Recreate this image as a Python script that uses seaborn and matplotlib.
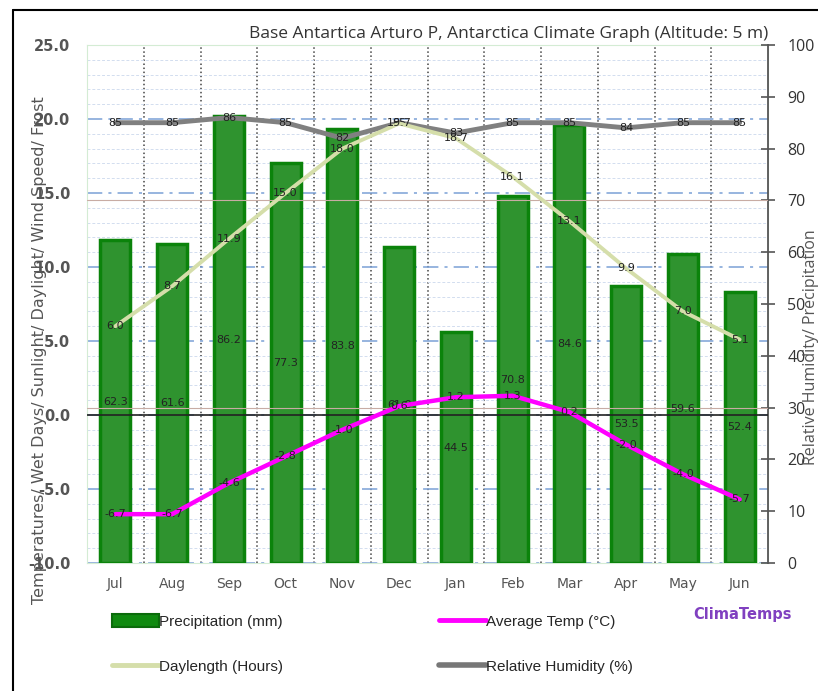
import numpy as np
import pandas as pd
import matplotlib.pyplot as plt
import matplotlib.patches as mpatches
from matplotlib.lines import Line2D
from matplotlib.ticker import MultipleLocator
import seaborn as sns

# Climate data, Base Antartica Arturo P (Jul -> Jun)
months = ['Jul', 'Aug', 'Sep', 'Oct', 'Nov', 'Dec', 'Jan', 'Feb', 'Mar', 'Apr', 'May', 'Jun']
precip = [62.3, 61.6, 86.2, 77.3, 83.8, 61.0, 44.5, 70.8, 84.6, 53.5, 59.6, 52.4]
avg_temp = [-6.7, -6.7, -4.6, -2.8, -1.0, 0.6, 1.2, 1.3, 0.2, -2.0, -4.0, -5.7]
daylength = [6.0, 8.7, 11.9, 15.0, 18.0, 19.7, 18.7, 16.1, 13.1, 9.9, 7.0, 5.1]
humidity = [85, 85, 86, 85, 82, 85, 83, 85, 85, 84, 85, 85]

df = pd.DataFrame({'month': months, 'precip': precip, 'temp': avg_temp,
                   'daylength': daylength, 'humidity': humidity})
df['pos'] = range(len(df))

sns.set_style('white')
plt.rcParams['font.family'] = ['DejaVu Sans']

bar_color = '#2f932f'
bar_edge = '#0b830b'
temp_color = '#ff00ff'
day_color = '#d5deaa'
hum_color = '#808080'

fig = plt.figure(figsize=(8.18, 6.91), dpi=100)
ax = fig.add_axes([87 / 818, 1 - 563 / 691, 681 / 818, 518 / 691])
ax2 = ax.twinx()
ax3 = ax.twinx()
ax.set_zorder(0)
ax2.set_zorder(1)
ax3.set_zorder(2)
ax2.patch.set_visible(False)
ax3.patch.set_visible(False)

# precipitation bars + humidity on the right axis
sns.barplot(data=df, x='month', y='precip', ax=ax2, color=bar_color, width=0.53,
            edgecolor=bar_edge, linewidth=2.5, saturation=1, zorder=2)
sns.lineplot(data=df, x='pos', y='humidity', ax=ax2, color=hum_color, lw=3.5, zorder=5)
ax2.axhline(30, color='#c8aca4', lw=0.8, zorder=4)
ax2.axhline(70, color='#c8aca4', lw=0.8, zorder=4)

# temperature + daylength on the left scale, drawn above the bars
sns.lineplot(data=df, x='pos', y='daylength', ax=ax3, color=day_color, lw=2.8)
sns.lineplot(data=df, x='pos', y='temp', ax=ax3, color=temp_color, lw=3.2)
ax3.axhline(0, color='#222222', lw=1.2, zorder=1)

# value labels
lbl = dict(ha='center', va='center', fontsize=8, color='#222222', zorder=10)
for _, r in df.iterrows():
    ax2.text(r['pos'], r['precip'] / 2, f"{r['precip']:.1f}", **lbl)
    ax2.text(r['pos'], r['humidity'], f"{r['humidity']:.0f}", **lbl)
    ax3.text(r['pos'], r['temp'], f"{r['temp']:.1f}", **lbl)
    ax3.text(r['pos'], r['daylength'], f"{r['daylength']:.1f}", **lbl)

for a in (ax, ax2, ax3):
    a.set_xlim(-0.5, 11.5)
    a.set_xlabel('')
    a.set_ylabel('')
ax.set_ylim(-10, 25)
ax3.set_ylim(-10, 25)
ax2.set_ylim(0, 100)

# left axis
ax.set_yticks(np.arange(-10, 26, 5))
ax.set_yticklabels([f'{v:.1f}' for v in np.arange(-10, 26, 5)])
ax.yaxis.set_minor_locator(MultipleLocator(1))
ax.tick_params(axis='y', which='both', length=0, pad=12, labelsize=10.5,
               labelcolor='#555555')
for t in ax.get_yticklabels():
    t.set_fontweight('bold')
ax.set_xticks(range(len(months)))
ax.set_xticks(np.arange(0.5, len(months) - 1, 1), minor=True)
ax.set_xticklabels(months)
ax.tick_params(axis='x', which='both', length=0, pad=10, labelsize=10,
               labelcolor='#555555')
ax.grid(False)
ax.grid(which='minor', axis='y', color='#d2ddef', ls=(0, (3, 2)), lw=0.7)
ax.grid(which='major', axis='y', color='#7aa0d6', ls=(0, (10, 4, 2, 4)), lw=1.1)
ax.grid(which='minor', axis='x', color='#444444', ls=':', lw=1.1)
for s in ax.spines.values():
    s.set_color('#d4ecd4')
    s.set_linewidth(0.8)

# right axis
ax2.set_yticks(range(0, 101, 10))
ax2.tick_params(axis='y', direction='inout', length=10, width=1.2, color='#555555',
                pad=9, labelsize=11.5, labelcolor='#333333')
for t in ax2.get_yticklabels():
    t.set_fontfamily('Open Sans')
for name, s in ax2.spines.items():
    s.set_visible(name == 'right')
ax2.spines['right'].set_color('#555555')
ax2.spines['right'].set_linewidth(1.3)
ax2.grid(False)
ax3.grid(False)
ax3.yaxis.set_visible(False)
for s in ax3.spines.values():
    s.set_visible(False)

ax.set_title('Base Antartica Arturo P, Antarctica Climate Graph (Altitude: 5 m)',
             loc='right', fontsize=12.5, color='#333333', family='Open Sans', pad=5)
fig.text(40 / 818, 1 - 350 / 691, 'Temperatures/ Wet Days/ Sunlight/ Daylight/ Wind Speed/ Frost',
         rotation=90, ha='center', va='center', fontsize=11.5, color='#555555')
fig.text(811 / 818, 1 - 347 / 691, 'Relative Humidity/ Precipitation', rotation=90,
         ha='center', va='center', fontsize=11.5, color='#555555', family='Open Sans')
fig.text(743 / 818, 1 - 615 / 691, 'ClimaTemps', ha='center', va='center',
         fontsize=10.5, color='#8040c0', fontweight='bold')

# legend
handles = [mpatches.Patch(facecolor='#108a10', edgecolor='#0b6b0b', lw=1.5),
           Line2D([], [], color=day_color, lw=3.5),
           Line2D([], [], color=temp_color, lw=3.5),
           Line2D([], [], color='#777777', lw=4)]
labels = ['Precipitation (mm)', 'Daylength (Hours)', 'Average Temp (°C)', 'Relative Humidity (%)']
fig.legend(handles, labels, loc='upper left', bbox_to_anchor=(0.12, 0.131), ncol=2,
           frameon=False, handlelength=3.1, handleheight=0.9, handletextpad=0.0,
           columnspacing=10.2, labelspacing=2.0,
           prop={'family': ['Liberation Sans Narrow', 'Liberation Sans'], 'size': 11})

# outer frame of the picture
fig.add_artist(Line2D([13 / 818, 13 / 818], [0, 1 - 10 / 691], transform=fig.transFigure,
                      color='black', lw=1.5))
fig.add_artist(Line2D([13 / 818, 1], [1 - 10 / 691, 1 - 10 / 691], transform=fig.transFigure,
                      color='black', lw=1.5))

fig.savefig('out.png', dpi=100)
